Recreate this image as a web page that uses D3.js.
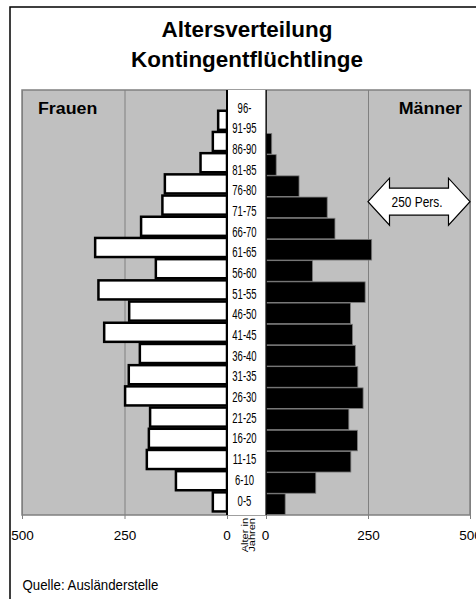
<!DOCTYPE html>
<html><head><meta charset="utf-8">
<script src="https://cdn.jsdelivr.net/npm/d3@7"></script>
<style>
html,body{margin:0;padding:0;background:#fff;}
svg{display:block;}
text{font-family:"Liberation Sans",Arial,Helvetica,sans-serif;}
</style></head>
<body>
<svg id="chart" width="476" height="599"></svg>
<script>
const categories = ["96-","91-95","86-90","81-85","76-80","71-75","66-70","61-65","56-60","51-55","46-50","41-45","36-40","31-35","26-30","21-25","16-20","11-15","6-10","0-5"];
const frauen = [0,24,37,67,154,160,212,324,176,316,241,302,215,242,251,190,193,198,127,37];
const maenner = [0,0,14,25,81,150,169,259,114,243,207,212,219,225,238,203,224,208,122,47];
const tickValues = [0,250,500];
const titleLines = ["Altersverteilung","Kontingentflüchtlinge"];
const scaleLabel = "250 Pers.";
const scaleSpan = [250,500];

const svg = d3.select("#chart");
const plotTop = 90, plotBottom = 515;

const xL = d3.scaleLinear().domain([0,500]).range([227,22]);
const xR = d3.scaleLinear().domain([0,500]).range([266,470]);
const y = d3.scaleBand().domain(categories).range([plotTop,514]).paddingInner(0.1).paddingOuter(0.05);
const yLab = d3.scalePoint().domain(categories).range([112.5,505.5]);

// outer frame
svg.append("rect").attr("x",10).attr("y",7).attr("width",520).attr("height",620)
  .attr("fill","#fff").attr("stroke","#000").attr("stroke-width",1.5);

// title
titleLines.forEach((t,i)=>{
  svg.append("text").attr("transform",`translate(247,${37+i*30}) scale(1.02,1)`)
    .attr("text-anchor","middle").attr("font-weight","bold").attr("font-size",22)
    .attr("fill","#000").text(t);
});

// plot background
svg.append("rect").attr("x",xL(500)).attr("y",plotTop).attr("width",xR(500)-xL(500)).attr("height",plotBottom-plotTop)
  .attr("fill","#c0c0c0").attr("stroke","#808080").attr("stroke-width",1.5);

// grid lines + ticks
const H = plotBottom-plotTop;
const gridL = d3.axisBottom(xL).tickValues(tickValues).tickSize(-H).tickFormat("");
const gridR = d3.axisBottom(xR).tickValues(tickValues).tickSize(-H).tickFormat("");
[gridL,gridR].forEach(g=>{
  const gg = svg.append("g").attr("transform",`translate(0,${plotBottom})`).call(g);
  gg.select(".domain").remove();
  gg.selectAll("line").attr("stroke","#808080").attr("stroke-width",1).attr("y2",-H).attr("y1",4);
});

// center column
svg.append("rect").attr("x",xL(0)).attr("y",plotTop).attr("width",xR(0)-xL(0)).attr("height",H).attr("fill","#fff");

// axes labels
function axisLabels(s){
  const a = d3.axisBottom(s).tickValues(tickValues).tickSize(0).tickPadding(0);
  const g = svg.append("g").attr("transform",`translate(0,${plotBottom})`).call(a);
  g.select(".domain").remove();
  g.selectAll("text").attr("font-family","'Liberation Sans',Arial,sans-serif").attr("font-size",13.5)
    .attr("fill","#000").attr("dy",null).attr("y",24.5);
  return g;
}
const axL = axisLabels(xL);
const axR = axisLabels(xR);
axL.selectAll(".tick").filter(d=>d===0).select("text").attr("x",-0.5);
axR.selectAll(".tick").filter(d=>d===0).select("text").attr("x",-1);

// bars women
svg.append("g").selectAll("rect").data(categories.map((c,i)=>({c,v:frauen[i]})).filter(d=>d.v>0))
  .join("rect")
  .attr("x",d=>xL(d.v)+1).attr("y",d=>y(d.c)-1.5).attr("width",d=>xL(0)-xL(d.v)-1).attr("height",y.bandwidth())
  .attr("fill","#fff").attr("stroke","#000").attr("stroke-width",2.5);

// bars men
svg.append("g").selectAll("rect").data(categories.map((c,i)=>({c,v:maenner[i]})).filter(d=>d.v>0))
  .join("rect")
  .attr("x",xR(0)).attr("y",d=>y(d.c)).attr("width",d=>xR(d.v)-xR(0)).attr("height",y.bandwidth()+1.5)
  .attr("fill","#000").attr("stroke","#7a7a7a").attr("stroke-width",0.8);

// center axis lines
svg.append("line").attr("x1",xL(0)).attr("x2",xL(0)).attr("y1",plotTop).attr("y2",plotBottom).attr("stroke","#000").attr("stroke-width",2);
svg.append("line").attr("x1",xR(0)).attr("x2",xR(0)).attr("y1",plotTop).attr("y2",plotBottom).attr("stroke","#000").attr("stroke-width",1.5);
svg.append("rect").attr("x",xL(0)+1).attr("y",plotTop).attr("width",xR(0)-xL(0)-1.75).attr("height",H).attr("fill","#fff");

// category labels
const cx = (xL(0)+xR(0))/2 - 2;
svg.append("g").selectAll("text").data(categories).join("text")
  .attr("transform",d=>`translate(${cx},${yLab(d)}) scale(0.68,1)`)
  .attr("text-anchor","middle").attr("font-family","'Liberation Sans',Arial,sans-serif")
  .attr("font-size",14).attr("fill","#000").text(d=>d);

// "Alter in Jahren"
["Alter in","Jahren"].forEach((t,i)=>{
  svg.append("text").attr("transform",`translate(${247.5+i*7.5},518) rotate(-90) scale(1,0.78)`)
    .attr("text-anchor","end").attr("font-size",11).attr("fill","#000").text(t);
});

// Frauen / Männer
svg.append("text").attr("transform",`translate(38,114) scale(1.08,1)`).attr("font-weight","bold").attr("font-size",16.5).text("Frauen");
svg.append("text").attr("transform",`translate(462,114) scale(1.08,1)`).attr("text-anchor","end").attr("font-weight","bold").attr("font-size",16.5).text("Männer");

// double arrow 250 Pers.
const ax0 = xR(scaleSpan[0]), ax1 = xR(scaleSpan[1]);
const cy = 201.7, head = 21.5, hh = 23.5, sh = 13.5;
const pts = [[ax0,cy],[ax0+head,cy-hh],[ax0+head,cy-sh],[ax1-head,cy-sh],[ax1-head,cy-hh],[ax1,cy],
             [ax1-head,cy+hh],[ax1-head,cy+sh],[ax0+head,cy+sh],[ax0+head,cy+hh]];
svg.append("path").attr("d",d3.line()(pts)+"Z").attr("fill","#fff").attr("stroke","#000").attr("stroke-width",1.2);
svg.append("text").attr("transform",`translate(${(ax0+ax1)/2-2},207) scale(0.85,1)`).attr("text-anchor","middle").attr("font-size",14).text(scaleLabel);

// source
svg.append("text").attr("transform","translate(22.5,590) scale(0.95,1)").attr("font-size",14).text("Quelle: Ausländerstelle");
</script>
</body></html>
